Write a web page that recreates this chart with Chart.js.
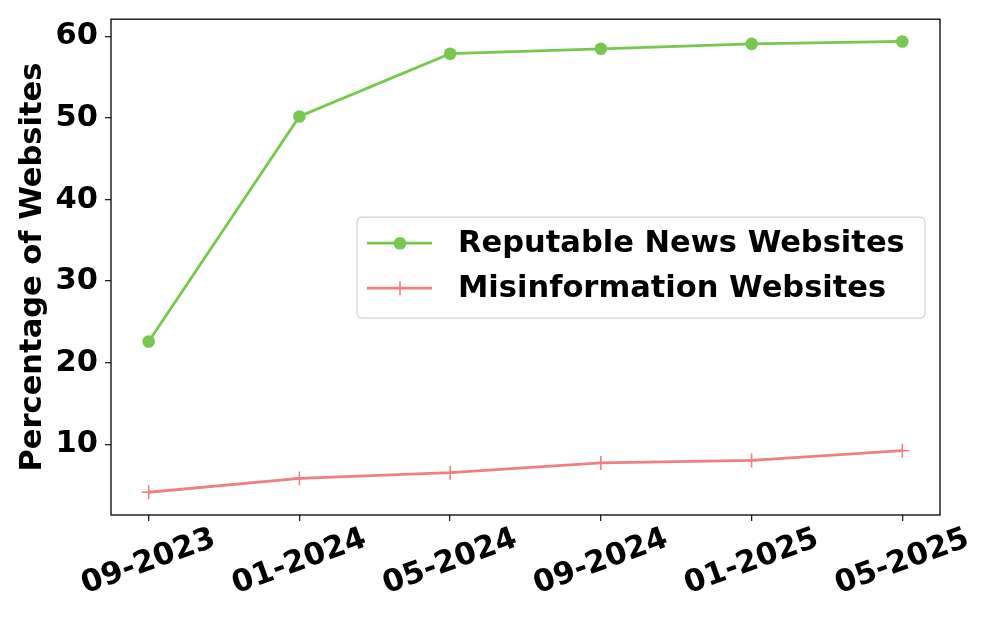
<!DOCTYPE html>
<html>
<head>
<meta charset="utf-8">
<script src="https://cdn.jsdelivr.net/npm/chart.js@4"></script>
<style>
  html, body { margin: 0; padding: 0; background: #fff; }
  #wrap { width: 997px; height: 623px; }
</style>
</head>
<body>
<div id="wrap"><canvas id="web-chart" width="997" height="623"></canvas></div>
<script>
// Data
const dateLabels = ['09-2023', '01-2024', '05-2024', '09-2024', '01-2025', '05-2025'];
const reputableValues = [22.6, 50.2, 57.9, 58.5, 59.1, 59.4];
const misinfoValues = [4.1, 5.8, 6.5, 7.7, 8.0, 9.2];
const seriesNames = ['Reputable News Websites', 'Misinformation Websites'];
const yTicks = [10, 20, 30, 40, 50, 60];

const FONT = '"DejaVu Sans", "Liberation Sans", sans-serif';
const FSIZE = 30.5;
const green = '#78C850';
const red = '#F08080';

const toPoints = (vals) => vals.map((v, i) => ({ x: i, y: v }));

// Frame, rotated date labels and the in-plot legend
const extrasPlugin = {
  id: 'extras',
  afterDraw(chart) {
    const { ctx, chartArea: a } = chart;
    const xs = chart.scales.x;
    ctx.save();

    // full box around the plot
    ctx.strokeStyle = '#000';
    ctx.lineWidth = 1.3;
    ctx.strokeRect(a.left, a.top, a.right - a.left, a.bottom - a.top);

    // x tick labels, rotated 20deg and centered under each tick
    ctx.font = 'bold ' + FSIZE + 'px ' + FONT;
    ctx.fillStyle = '#000';
    ctx.textAlign = 'center';
    ctx.textBaseline = 'middle';
    dateLabels.forEach((lab, i) => {
      ctx.save();
      ctx.translate(xs.getPixelForValue(i), a.bottom + 47);
      ctx.rotate(-20 * Math.PI / 180);
      ctx.fillText(lab, 0, 0);
      ctx.restore();
    });

    // legend box
    const bx = a.left + 246, by = a.top + 198, bw = 568, bh = 101;
    ctx.beginPath();
    ctx.roundRect(bx, by, bw, bh, 5);
    ctx.fillStyle = 'rgba(255,255,255,0.85)';
    ctx.fill();
    ctx.strokeStyle = '#d4d4d4';
    ctx.lineWidth = 1.3;
    ctx.stroke();

    chart.data.datasets.forEach((ds, i) => {
      const y = by + 26 + i * 45;
      ctx.strokeStyle = ds.borderColor;
      ctx.lineWidth = ds.borderWidth;
      ctx.beginPath();
      ctx.moveTo(bx + 10, y);
      ctx.lineTo(bx + 75, y);
      ctx.stroke();
      const mx = bx + 43;
      if (ds.pointStyle === 'circle') {
        ctx.fillStyle = ds.pointBackgroundColor;
        ctx.beginPath();
        ctx.arc(mx, y, ds.pointRadius, 0, Math.PI * 2);
        ctx.fill();
      } else {
        ctx.lineWidth = ds.pointBorderWidth;
        ctx.beginPath();
        ctx.moveTo(mx - ds.pointRadius, y);
        ctx.lineTo(mx + ds.pointRadius, y);
        ctx.moveTo(mx, y - ds.pointRadius);
        ctx.lineTo(mx, y + ds.pointRadius);
        ctx.stroke();
      }
      ctx.fillStyle = '#000';
      ctx.textAlign = 'left';
      ctx.textBaseline = 'middle';
      ctx.font = 'bold ' + FSIZE + 'px ' + FONT;
      ctx.fillText(ds.label, bx + 101, y + 1);
    });

    ctx.restore();
  },
};

const webCanvas = document.getElementById('web-chart');

let webChart = new Chart(webCanvas, {
  type: 'line',
  data: {
    datasets: [
      {
        label: seriesNames[0],
        data: toPoints(reputableValues),
        borderColor: green,
        backgroundColor: green,
        borderWidth: 2.8,
        pointStyle: 'circle',
        pointRadius: 6.3,
        pointBackgroundColor: green,
        pointBorderColor: green,
        pointBorderWidth: 0,
      },
      {
        label: seriesNames[1],
        data: toPoints(misinfoValues),
        borderColor: red,
        backgroundColor: red,
        borderWidth: 2.8,
        pointStyle: 'cross',
        pointRadius: 7,
        pointBackgroundColor: red,
        pointBorderColor: red,
        pointBorderWidth: 1.6,
      },
    ],
  },
  options: {
    responsive: false,
    animation: false,
    layout: { padding: { top: 18, right: 57, bottom: 0, left: 0 } },
    plugins: {
      legend: { display: false },
      tooltip: { enabled: false },
    },
    scales: {
      x: {
        type: 'linear',
        min: -0.25,
        max: 5.25,
        afterFit: (s) => { s.height = 108; },
        afterBuildTicks: (s) => { s.ticks = dateLabels.map((_, i) => ({ value: i })); },
        ticks: { display: false },
        border: { display: false },
        grid: { drawOnChartArea: false, drawTicks: true, tickLength: 6, color: '#222', lineWidth: 1.3 },
      },
      y: {
        min: 1.31,
        max: 62.13,
        afterFit: (s) => { s.width = 111; },
        afterBuildTicks: (s) => { s.ticks = yTicks.map((v) => ({ value: v })); },
        ticks: {
          color: '#000',
          padding: 7,
          font: { family: FONT, size: FSIZE, weight: 'bold', lineHeight: 0.8 },
        },
        border: { display: false },
        grid: { drawOnChartArea: false, drawTicks: true, tickLength: 6, color: '#222', lineWidth: 1.3 },
        title: {
          display: true,
          text: 'Percentage of Websites',
          color: '#000',
          font: { family: FONT, size: FSIZE, weight: 'bold' },
          padding: { top: 15, bottom: 0 },
        },
      },
    },
  },
  plugins: [extrasPlugin],
});
</script>
</body>
</html>
